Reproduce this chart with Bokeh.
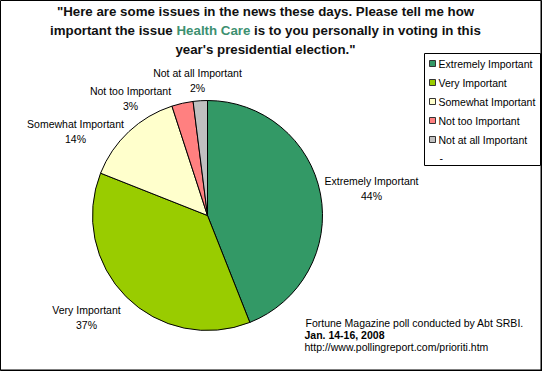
import numpy as np
from bokeh.plotting import figure
from bokeh.models import Range1d, ColumnDataSource
from bokeh.core.properties import value
from bokeh.embed import file_html
from bokeh.resources import INLINE

# ---- data ----
categories = ["Extremely Important", "Very Important", "Somewhat Important",
              "Not too Important", "Not at all Important"]
percents = [44, 37, 14, 3, 2]
colors = ["#339966", "#99CC00", "#FFFFCC", "#FF8080", "#C0C0C0"]
pct_labels = [f"{v}%" for v in percents]

title_lines = ['"Here are some issues in the news these days. Please tell me how',
               "year's presidential election.\""]
title_mid = ["important the issue", "Health Care", "is to you personally in voting in this"]
note_lines = ["Fortune Magazine poll conducted by Abt SRBI.",
              "Jan. 14-16, 2008",
              "http://www.pollingreport.com/prioriti.htm"]

# ---- layout (reference pixel coords; y measured from top) ----
W, H = 542, 371
H_REF = 387
def Y(y):
    return H_REF - y

FONT = value("Liberation Sans")

p = figure(width=W, height=H, output_backend="svg", toolbar_location=None,
           x_range=Range1d(8, 8 + W), y_range=Range1d(H_REF - 8 - H, H_REF - 8),
           min_border=0)
p.axis.visible = False
p.xgrid.visible = False
p.ygrid.visible = False
p.outline_line_color = "black"
p.outline_line_width = 1
p.background_fill_color = "white"
p.border_fill_color = "white"

# chart-area shadow on right / bottom edges
p.segment(x0=[8 + W - 1, 8], y0=[Y(8), Y(8 + H - 1)], x1=[8 + W - 1, 8 + W],
          y1=[Y(8 + H), Y(8 + H - 1)], line_color="black", line_width=2)

# pie
cx, cy, r = 215, 223, 115
fr = np.array(percents, dtype=float) / sum(percents)
cum = np.concatenate([[0], np.cumsum(fr)])
start = np.pi / 2 - cum[:-1] * 2 * np.pi
end = np.pi / 2 - cum[1:] * 2 * np.pi
src = ColumnDataSource(dict(start=start, end=end, color=colors, cat=categories))
p.wedge(x=cx, y=Y(cy), radius=r, start_angle="start", end_angle="end",
        direction="clock", fill_color="color", line_color="black", line_width=1,
        source=src)

# slice labels
lab_pos = [(379, 188), (94, 317), (83, 131), (138, 98), (205, 80)]
for (lx, ly), name, pct in zip(lab_pos, categories, pct_labels):
    p.text(x=[lx], y=[Y(ly)], text=[name], text_font=FONT, text_font_size="10.5px",
           text_align="center", text_baseline="middle", text_color="black")
    p.text(x=[lx], y=[Y(ly + 15)], text=[pct], text_font=FONT, text_font_size="10.5px",
           text_align="center", text_baseline="middle", text_color="black")

# title
TFS = "13.3px"
p.text(x=[273], y=[Y(19)], text=[title_lines[0]], text_font=FONT, text_font_size=TFS,
       text_font_style="bold", text_align="center", text_baseline="middle", text_color="#111111")
seg_x = [57.5, 184, 261.5]
seg_c = ["#111111", "#3D9070", "#111111"]
for sx, t, c in zip(seg_x, title_mid, seg_c):
    p.text(x=[sx], y=[Y(38)], text=[t], text_font=FONT, text_font_size=TFS,
           text_font_style="bold", text_align="left", text_baseline="middle", text_color=c)
p.text(x=[273], y=[Y(57)], text=[title_lines[1]], text_font=FONT, text_font_size=TFS,
       text_font_style="bold", text_align="center", text_baseline="middle", text_color="#111111")

# legend box
lx0, lx1, ly0, ly1 = 432, 548, 61, 173
p.quad(left=[lx0], right=[lx1], top=[Y(ly0)], bottom=[Y(ly1)], fill_color="white",
       line_color="black", line_width=1)
leg_y = [71, 90, 109, 128, 147]
p.rect(x=[440] * len(categories), y=[Y(v) for v in leg_y], width=6, height=6,
       fill_color=colors, line_color="#333333", line_width=1)
p.text(x=[446] * len(categories), y=[Y(v) for v in leg_y], text=categories,
       text_font=FONT, text_font_size="10.5px", text_align="left",
       text_baseline="middle", text_color="black")
p.text(x=[447], y=[Y(165)], text=["-"], text_font=FONT, text_font_size="10.5px",
       text_align="left", text_baseline="middle", text_color="black")

# footnote
p.text(x=[313], y=[Y(330)], text=[note_lines[0]], text_font=FONT, text_font_size="10.5px",
       text_align="left", text_baseline="middle", text_color="black")
p.text(x=[312], y=[Y(342)], text=[note_lines[1]], text_font=FONT, text_font_size="10.5px",
       text_font_style="bold", text_align="left", text_baseline="middle", text_color="black")
p.text(x=[312], y=[Y(354)], text=[note_lines[2]], text_font=FONT, text_font_size="10.5px",
       text_align="left", text_baseline="middle", text_color="black")

open("out.html", "w").write(file_html(p, INLINE))
